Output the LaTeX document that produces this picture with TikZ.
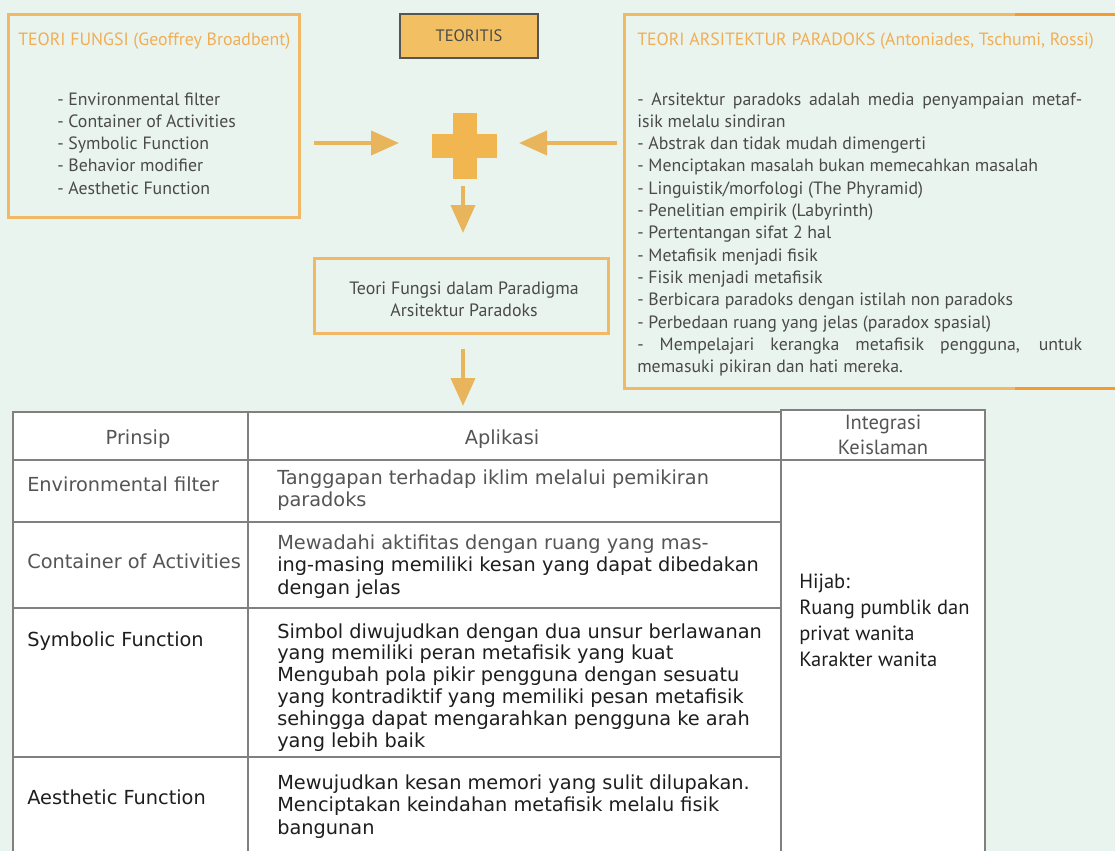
\documentclass[tikz,border=0pt]{standalone}
\usepackage{fontspec}
\setmainfont{PT Sans}
\newfontfamily\tabfont{DejaVu Sans}
\usetikzlibrary{arrows.meta}
\definecolor{bgc}{HTML}{EAF4EF}
\definecolor{ostroke}{HTML}{F2B866}
\definecolor{odeep}{HTML}{F59A2E}
\definecolor{otitle}{HTML}{F0AE55}
\definecolor{arrc}{HTML}{E8B45C}
\definecolor{plusc}{HTML}{F2B650}
\definecolor{tfill}{HTML}{F2C063}
\definecolor{txtgrey}{HTML}{4A4A4A}
\definecolor{tline}{HTML}{808080}
\definecolor{tgrey}{HTML}{555555}
\definecolor{tdark}{HTML}{1E1E1E}
\begin{document}
\begin{tikzpicture}[x=0.75pt,y=-0.75pt,
  boxtxt/.style={anchor=base west, inner sep=0, text=txtgrey, font=\fontsize{13.35}{15}\selectfont},
  boxtitle/.style={anchor=base west, inner sep=0, text=otitle, font=\fontsize{13.35}{15}\selectfont},
  tabtxt/.style={anchor=base west, inner sep=0, text=tdark, font=\tabfont\fontsize{14.5}{16}\selectfont},
  tabgrey/.style={tabtxt, text=tgrey},
  hijtxt/.style={anchor=base west, inner sep=0, text=tdark, font=\fontsize{15.4}{17}\selectfont},
  arr/.style={draw=arrc, line width=3pt, -{Triangle[length=21pt,width=18pt]}},
  obox/.style={draw=ostroke, line width=2.25pt},
  tl/.style={draw=tline, line width=1.6pt}]
\fill[bgc] (0,0) rectangle (1115,851);
\useasboundingbox (0,0) rectangle (1115,851);

% left box
\draw[obox] (8,14) rectangle (299,217);
\node[boxtitle] (lt) at (18,45) {TEORI FUNGSI (Geoffrey Broadbent)};
\foreach \t [count=\i] in {- Environmental filter,- Container of Activities,- Symbolic Function,- Behavior modifier,- Aesthetic Function}
  \node[boxtxt] (ll\i) at (57,{105+22.3*(\i-1)}) {\t};

% TEORITIS
\node[draw=tgrey, fill=tfill, line width=2pt, minimum width=103.5pt, minimum height=33pt, inner sep=0, text=txtgrey, font=\fontsize{12.4}{14}\selectfont] (teo) at (469,36) {TEORITIS};

% right box
\draw[obox] (1015,14) -- (624,14) -- (624,388) -- (1015,388);
\draw[draw=odeep, line width=2.25pt] (1015,14) -- (1115,14);
\draw[draw=odeep, line width=2.25pt] (1015,388) -- (1115,388);
\node[boxtitle] (rt) at (637,45) {TEORI ARSITEKTUR PARADOKS (Antoniades, Tschumi, Rossi)};
\node[boxtxt] (rl1) at (637,105) {\makebox[333.75pt][s]{- Arsitektur paradoks adalah media penyampaian metaf-}};
\foreach \t [count=\i from 2] in {isik melalu sindiran,- Abstrak dan tidak mudah dimengerti,- Menciptakan masalah bukan memecahkan masalah,- Linguistik/morfologi (The Phyramid),- Penelitian empirik (Labyrinth),- Pertentangan sifat 2 hal,- Metafisik menjadi fisik,- Fisik menjadi metafisik,- Berbicara paradoks dengan istilah non paradoks,- Perbedaan ruang yang jelas (paradox spasial)}
  \node[boxtxt] (rl\i) at (637,{105+22.3*(\i-1)}) {\t};
\node[boxtxt] (rl12) at (637,350) {\makebox[333.75pt][s]{- Mempelajari kerangka metafisik pengguna, untuk}};
\node[boxtxt] (rl13) at (637,372) {memasuki pikiran dan hati mereka.};

% plus
\fill[plusc] (453,113) rectangle (477,179);
\fill[plusc] (432,134) rectangle (497,158);
\coordinate (plus) at (465,146);

% arrows
\coordinate (la1) at (314,143); \coordinate (la2) at (399,143);
\coordinate (ra1) at (617,143); \coordinate (ra2) at (519,143);
\coordinate (da1) at (463,186); \coordinate (da2) at (463,233);
\coordinate (db1) at (463,349); \coordinate (db2) at (463,406);
\draw[arr] (la1) -- (la2);
\draw[arr] (ra1) -- (ra2);
\draw[arr] (da1) -- (da2);
\draw[arr] (db1) -- (db2);

% middle box
\draw[obox] (314,258) rectangle (608,333);
\node[anchor=base, inner sep=0, text=txtgrey, font=\fontsize{13.4}{15}\selectfont] (m1) at (464,294) {Teori Fungsi dalam Paradigma};
\node[anchor=base, inner sep=0, text=txtgrey, font=\fontsize{13.4}{15}\selectfont] (m2) at (464,316) {Arsitektur Paradoks};

% table
\fill[white] (13,412) rectangle (781,851);
\fill[white] (781,410) rectangle (985,851);
\draw[tl] (13,851) -- (13,412) -- (781,412);
\draw[tl] (781,851) -- (781,410) -- (985,410) -- (985,851);
\draw[tl] (248,412) -- (248,851);
\draw[tl] (13,460) -- (985,460);
\draw[tl] (13,522) -- (781,522);
\draw[tl] (13,608) -- (781,608);
\draw[tl] (13,757) -- (781,757);

\node[tabgrey, anchor=base] (h1) at (138,444) {Prinsip};
\node[tabgrey, anchor=base] (h2) at (502,444) {Aplikasi};
\node[hijtxt, text=tgrey, anchor=base] (h3a) at (883,429) {Integrasi};
\node[hijtxt, text=tgrey, anchor=base] (h3b) at (883,454) {Keislaman};

\node[tabgrey] (p1) at (27,491) {Environmental filter};
\node[tabgrey] (p2) at (27,568) {Container of Activities};
\node[tabtxt] (p3) at (27,646) {Symbolic Function};
\node[tabtxt] (p4) at (27,804) {Aesthetic Function};

\node[tabgrey] (a1a) at (277,484) {Tanggapan terhadap iklim melalui pemikiran};
\node[tabgrey] (a1b) at (277,506) {paradoks};
\node[tabgrey] (a2a) at (277,549) {Mewadahi aktifitas dengan ruang yang mas-};
\node[tabtxt] (a2b) at (277,571) {ing-masing memiliki kesan yang dapat dibedakan};
\node[tabtxt] (a2c) at (277,594) {dengan jelas};
\foreach \t [count=\i] in {Simbol diwujudkan dengan dua unsur berlawanan,yang memiliki peran metafisik yang kuat,Mengubah pola pikir pengguna dengan sesuatu,yang kontradiktif yang memiliki pesan metafisik,sehingga dapat mengarahkan pengguna ke arah,yang lebih baik}
  \node[tabtxt] (a3\i) at (277,{638+21.8*(\i-1)}) {\t};
\foreach \t [count=\i] in {Mewujudkan kesan memori yang sulit dilupakan.,Menciptakan keindahan metafisik melalu fisik,bangunan}
  \node[tabtxt] (a4\i) at (277,{789+22.5*(\i-1)}) {\t};

\foreach \t [count=\i] in {Hijab:,Ruang pumblik dan,privat wanita,Karakter wanita}
  \node[hijtxt] (k\i) at (799,{588+26.3*(\i-1)}) {\t};
\end{tikzpicture}
\end{document}
